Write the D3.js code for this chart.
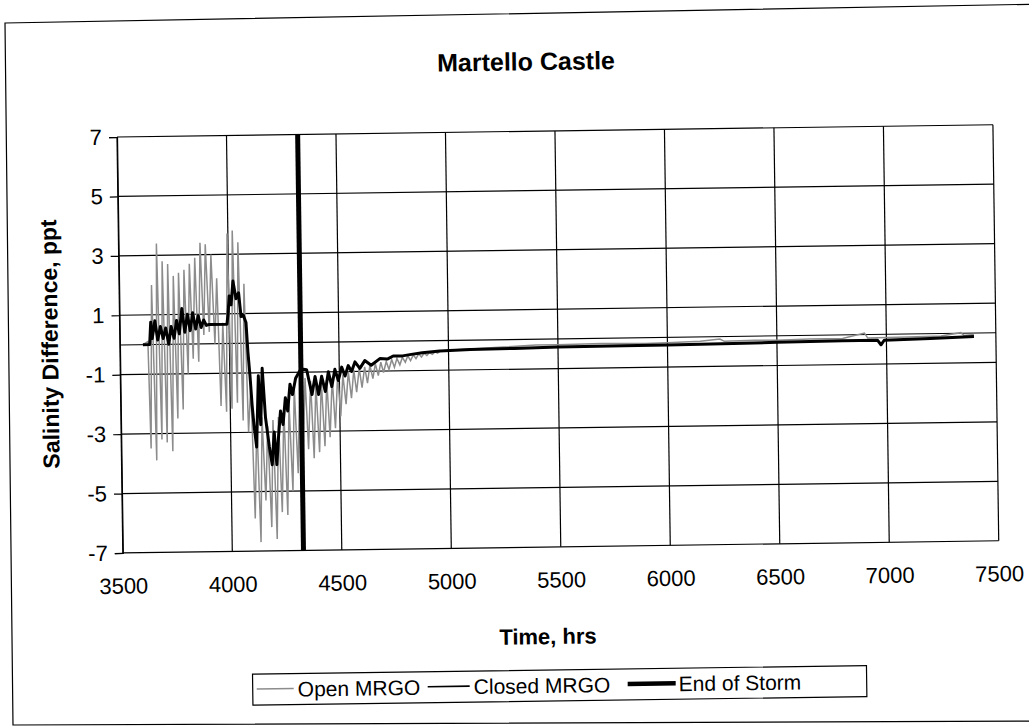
<!DOCTYPE html>
<html><head><meta charset="utf-8">
<script src="https://cdn.jsdelivr.net/npm/d3@7/dist/d3.min.js"></script>
<style>
body{margin:0;background:#fff}
text{font-family:"Liberation Sans",Arial,Helvetica,sans-serif;fill:#000}
</style>
</head><body>
<svg id="chart" width="1029" height="726"></svg>
<script>
// ---------- data ----------
const chartTitle = "Martello Castle";
const xLabel = "Time, hrs";
const yLabel = "Salinity Difference, ppt";
const xTicks = [3500, 4000, 4500, 5000, 5500, 6000, 6500, 7000, 7500];
const yTicks = [-7, -5, -3, -1, 1, 3, 5, 7];
const seriesNames = ["Open MRGO", "Closed MRGO", "End of Storm"];

// Open MRGO: [time (hrs), salinity difference (ppt)]
const openMRGO = [
  [3605,0],[3628,0.1],[3636,-3.5],[3648,2.0],[3661,-3.9],[3673,3.4],[3686,-3.2],[3698,2.8],
  [3710,-3.3],[3723,2.7],[3735,-3.6],[3748,2.3],[3760,-2.5],[3772,2.4],[3785,-2.2],[3797,2.5],
  [3810,-1.0],[3822,2.7],[3834,-0.5],[3847,2.9],[3859,-0.6],[3872,3.4],[3884,0.3],[3896,3.35],
  [3909,0.4],[3921,3.0],[3934,0.0],[3946,2.2],[3958,-2.1],[3971,0.7],[3983,-2.3],[3996,3.7],
  [4008,-2.2],[4020,3.8],[4033,-2.0],[4045,3.4],[4058,-2.6],[4070,2.0],[4082,-3.0],[4095,-1.4],
  [4107,-5.9],[4120,-2.6],[4132,-6.7],[4144,-2.5],[4157,-5.3],[4169,-2.8],[4182,-6.2],[4194,-2.6],
  [4206,-6.6],[4219,-2.5],[4231,-5.7],[4244,-2.2],[4256,-5.8],[4268,-2.0],[4281,-5.0],[4293,-1.5],
  [4306,-4.4],[4318,-1.3],[4330,-3.9],[4343,-1.2],[4355,-3.6],[4368,-1.3],[4380,-3.9],[4392,-1.4],
  [4405,-3.7],[4417,-1.3],[4430,-3.5],[4442,-1.3],[4454,-3.2],[4467,-1.2],[4479,-2.9],[4492,-1.1],
  [4504,-2.5],[4516,-1.1],[4529,-2.1],[4541,-1.0],[4554,-1.9],[4566,-0.95],[4578,-1.7],[4591,-0.9],
  [4603,-1.55],[4616,-0.85],[4628,-1.4],[4640,-0.8],[4653,-1.25],[4665,-0.75],[4678,-1.15],[4690,-0.7],
  [4702,-1.05],[4715,-0.68],[4727,-0.95],[4740,-0.62],[4752,-0.88],[4764,-0.58],[4777,-0.8],[4789,-0.55],
  [4802,-0.72],[4814,-0.5],[4826,-0.66],[4839,-0.47],[4851,-0.6],[4864,-0.44],[4876,-0.55],[4888,-0.42],
  [4901,-0.5],[4913,-0.4],[4926,-0.46],[4938,-0.38],[4950,-0.42],[4963,-0.35],
  [5000,-0.33],[5100,-0.3],[5250,-0.25],[5400,-0.2],[5500,-0.2],[5700,-0.18],[5900,-0.2],[6000,-0.18],
  [6150,-0.15],[6240,-0.08],[6260,-0.16],[6400,-0.14],[6500,-0.15],[6650,-0.12],[6800,-0.12],[6900,0.05],
  [6915,-0.12],[7100,-0.1],[7250,-0.08],[7340,0.02],[7355,-0.08],[7400,-0.05]
];

// Closed MRGO
const closedMRGO = [
  [3605,0],[3636,0.0],[3642,0.75],[3648,0.2],[3661,0.8],[3673,0.15],[3686,0.6],[3698,0.2],
  [3710,0.55],[3723,0.0],[3735,0.6],[3748,0.2],[3760,0.8],[3772,0.35],[3785,1.2],[3797,0.4],
  [3810,1.0],[3822,0.45],[3834,1.05],[3847,0.5],[3859,0.95],[3872,0.55],[3884,0.8],[3896,0.62],
  [3909,0.65],[3990,0.65],[3996,1.0],[4002,1.6],[4010,1.3],[4020,2.1],[4033,1.5],[4045,1.7],
  [4055,0.9],[4065,0.95],[4077,0.7],[4084,-0.3],[4092,-1.1],[4100,-2.1],[4107,-2.75],[4118,-3.5],
  [4130,-1.1],[4138,-2.75],[4148,-0.85],[4160,-2.5],[4176,-3.5],[4188,-4.1],[4199,-3.0],[4209,-4.1],
  [4218,-3.2],[4229,-2.3],[4240,-2.75],[4252,-1.85],[4262,-2.3],[4274,-1.4],[4285,-1.75],[4300,-1.2],
  [4320,-0.95],[4336,-0.9],[4351,-0.92],[4374,-1.76],[4389,-1.15],[4404,-1.76],[4419,-1.15],[4435,-1.66],
  [4450,-1.0],[4465,-1.5],[4480,-0.92],[4495,-1.3],[4511,-0.85],[4526,-1.15],[4541,-0.8],[4556,-1.0],
  [4572,-0.68],[4594,-0.9],[4617,-0.64],[4646,-0.8],[4686,-0.58],[4720,-0.6],[4747,-0.5],[4790,-0.5],
  [4823,-0.46],[4880,-0.4],[4960,-0.35],[5100,-0.32],[5300,-0.3],[5500,-0.27],[5800,-0.26],[6000,-0.26],
  [6300,-0.24],[6500,-0.22],[6800,-0.2],[6960,-0.2],[6975,-0.35],[6990,-0.2],[7200,-0.16],[7400,-0.12]
];

// End of Storm marker
const endOfStorm = [[4325,-7],[4325,7]];

// ---------- drawing ----------
const svg = d3.select("#chart");
const plot = {left:117, right:993, top:137, bottom:553};
const FONT = '"Liberation Sans",Arial,sans-serif';

// outer page frame (scanned sheet edge)
svg.append("path").attr("d","M5,23 L1045,4 L1045,721 L13,725 Z")
  .attr("fill","#fff").attr("stroke","#000").attr("stroke-width",1.2);

// whole chart is slightly tilted in the scanned original
const root = svg.append("g").attr("transform",`rotate(-0.8 ${plot.left} ${plot.top})`);

const x = d3.scaleLinear().domain([3500, 7500]).range([plot.left, plot.right]);
const y = d3.scaleLinear().domain([-7, 7]).range([plot.bottom, plot.top]);

// title
root.append("text").attr("x",527).attr("y",76).attr("text-anchor","middle")
  .attr("font-size",25).attr("font-weight","bold").text(chartTitle);

// grid lines
const g = root.append("g");
g.selectAll(".hgrid").data(yTicks).join("line")
  .attr("x1",plot.left).attr("x2",plot.right)
  .attr("y1",d=>y(d)).attr("y2",d=>y(d))
  .attr("stroke","#000").attr("stroke-width",1.2);
g.selectAll(".vgrid").data(xTicks).join("line")
  .attr("x1",d=>x(d)).attr("x2",d=>x(d))
  .attr("y1",plot.top).attr("y2",plot.bottom)
  .attr("stroke","#000").attr("stroke-width",1.2);
// zero (category) axis line
g.append("line").attr("x1",plot.left).attr("x2",plot.right)
  .attr("y1",y(0)).attr("y2",y(0)).attr("stroke","#000").attr("stroke-width",1.2);

// y axis
const yAxis = d3.axisLeft(y).tickValues(yTicks).tickSize(8).tickPadding(7).tickFormat(d => String(d));
const ya = root.append("g").attr("transform",`translate(${plot.left},0)`).call(yAxis);
ya.select(".domain").attr("stroke","#000").attr("stroke-width",1.2);
ya.selectAll(".tick line").attr("stroke","#000").attr("stroke-width",1.2);
ya.selectAll("text").attr("font-size",22).attr("font-family",FONT).attr("fill","#000");

// x axis labels
const xAxis = d3.axisBottom(x).tickValues(xTicks).tickSize(0).tickPadding(25).tickFormat(d => String(d));
const xa = root.append("g").attr("transform",`translate(0,${plot.bottom})`).call(xAxis);
xa.select(".domain").remove();
xa.selectAll("text").attr("font-size",22).attr("font-family",FONT).attr("fill","#000");

// axis titles
root.append("text").attr("x",541).attr("y",650).attr("text-anchor","middle")
  .attr("font-size",22).attr("font-weight","bold").text(xLabel);
root.append("text").attr("transform","translate(55,343) rotate(-90)").attr("text-anchor","middle")
  .attr("font-size",23).attr("font-weight","bold").text(yLabel);

// series
const line = d3.line().x(d=>x(d[0])).y(d=>y(d[1]));
root.append("clipPath").attr("id","plotclip").append("rect")
  .attr("x",plot.left).attr("y",plot.top-4).attr("width",plot.right-plot.left).attr("height",plot.bottom-plot.top+8);
const sg = root.append("g").attr("clip-path","url(#plotclip)");
sg.append("path").datum(openMRGO).attr("d",line).attr("fill","none")
  .attr("stroke","#8c8c8c").attr("stroke-width",1.5).attr("stroke-linejoin","miter");
sg.append("path").datum(closedMRGO).attr("d",line).attr("fill","none")
  .attr("stroke","#000").attr("stroke-width",3).attr("stroke-linejoin","round");
sg.append("path").datum(endOfStorm).attr("d",line).attr("fill","none")
  .attr("stroke","#000").attr("stroke-width",5);

// legend
const lg = root.append("g");
lg.append("rect").attr("x",245).attr("y",676).attr("width",614).attr("height",31)
  .attr("fill","#fff").attr("stroke","#000").attr("stroke-width",1.2);
const legendItems = [
  {name:seriesNames[0], x1:249, x2:286, tx:290, color:"#8c8c8c", w:1.5},
  {name:seriesNames[1], x1:420, x2:462, tx:466, color:"#000", w:1.6},
  {name:seriesNames[2], x1:620, x2:668, tx:671, color:"#000", w:4.5}
];
legendItems.forEach(it=>{
  lg.append("line").attr("x1",it.x1).attr("x2",it.x2).attr("y1",691).attr("y2",691)
    .attr("stroke",it.color).attr("stroke-width",it.w);
  lg.append("text").attr("x",it.tx).attr("y",699).attr("font-size",21).text(it.name);
});
</script>
</body></html>
